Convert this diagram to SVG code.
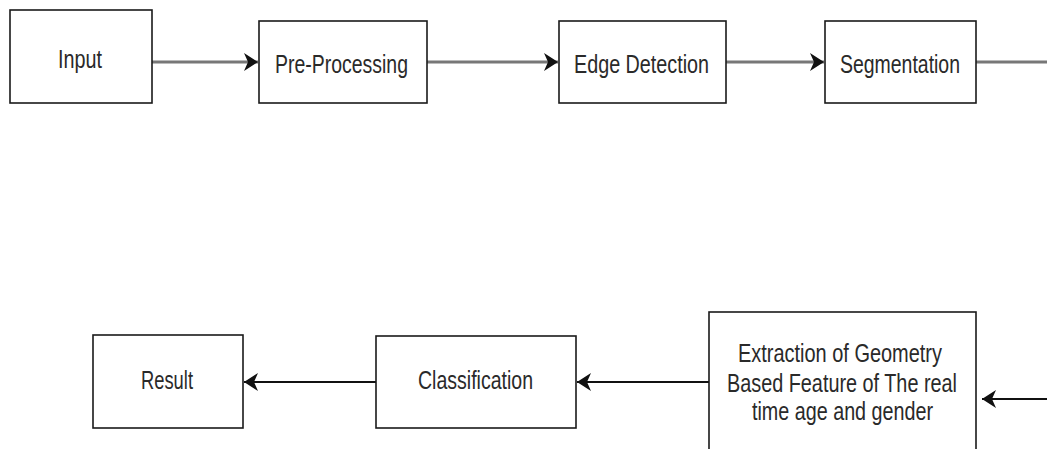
<svg xmlns="http://www.w3.org/2000/svg" width="1047" height="449" viewBox="0 0 1047 449">
  <style>
    .box { fill: #ffffff; stroke: #1a1a1a; stroke-width: 1.6; }
    .label { font-family: "Liberation Sans", Arial, sans-serif; font-size: 26px; fill: #2a2a2a; text-anchor: start; }
    .flow-top { fill: none; stroke: #777777; stroke-width: 3.2; }
    .flow-bottom { fill: none; stroke: #111111; stroke-width: 1.8; }
  </style>
  <defs>
    <marker id="head" markerUnits="userSpaceOnUse" markerWidth="15" markerHeight="18" refX="14" refY="9" orient="auto">
      <path d="M0,0 L14,9 L0,18 L4,9 Z" fill="#111111"/>
    </marker>
  </defs>

  <rect width="1047" height="449" fill="#ffffff"/>

  <!-- connectors -->
  <g id="connectors">
    <path class="flow-top" d="M152,62 L258,62" marker-end="url(#head)"/>
    <path class="flow-top" d="M427,62 L558,62" marker-end="url(#head)"/>
    <path class="flow-top" d="M726,62 L824,62" marker-end="url(#head)"/>
    <path class="flow-top" d="M976,62 L1047,62"/>
    <path class="flow-bottom" d="M1047,399 L982,399" marker-end="url(#head)"/>
    <path class="flow-bottom" d="M709,382 L577,382" marker-end="url(#head)"/>
    <path class="flow-bottom" d="M376,382 L244,382" marker-end="url(#head)"/>
  </g>

  <!-- top row -->
  <g id="input">
    <rect class="box" x="10" y="10" width="142" height="93"/>
    <text class="label" x="58" y="68" textLength="44" lengthAdjust="spacingAndGlyphs">Input</text>
  </g>
  <g id="pre-processing">
    <rect class="box" x="259" y="21" width="168" height="82"/>
    <text class="label" x="275" y="73" textLength="133" lengthAdjust="spacingAndGlyphs">Pre-Processing</text>
  </g>
  <g id="edge-detection">
    <rect class="box" x="559" y="21" width="167" height="82"/>
    <text class="label" x="574" y="73" textLength="135" lengthAdjust="spacingAndGlyphs">Edge Detection</text>
  </g>
  <g id="segmentation">
    <rect class="box" x="825" y="21" width="151" height="82"/>
    <text class="label" x="840" y="73" textLength="120" lengthAdjust="spacingAndGlyphs">Segmentation</text>
  </g>

  <!-- bottom row -->
  <g id="feature-extraction">
    <rect class="box" x="709" y="312" width="267" height="150"/>
    <text class="label" x="738" y="362" textLength="204" lengthAdjust="spacingAndGlyphs">Extraction of Geometry</text>
    <text class="label" x="727" y="392" textLength="230" lengthAdjust="spacingAndGlyphs">Based Feature of The real</text>
    <text class="label" x="752" y="420" textLength="181" lengthAdjust="spacingAndGlyphs">time age and gender</text>
  </g>
  <g id="classification">
    <rect class="box" x="376" y="336" width="200" height="92"/>
    <text class="label" x="418" y="389" textLength="115" lengthAdjust="spacingAndGlyphs">Classification</text>
  </g>
  <g id="result">
    <rect class="box" x="93" y="335" width="150" height="93"/>
    <text class="label" x="141" y="389" textLength="52" lengthAdjust="spacingAndGlyphs">Result</text>
  </g>
</svg>
